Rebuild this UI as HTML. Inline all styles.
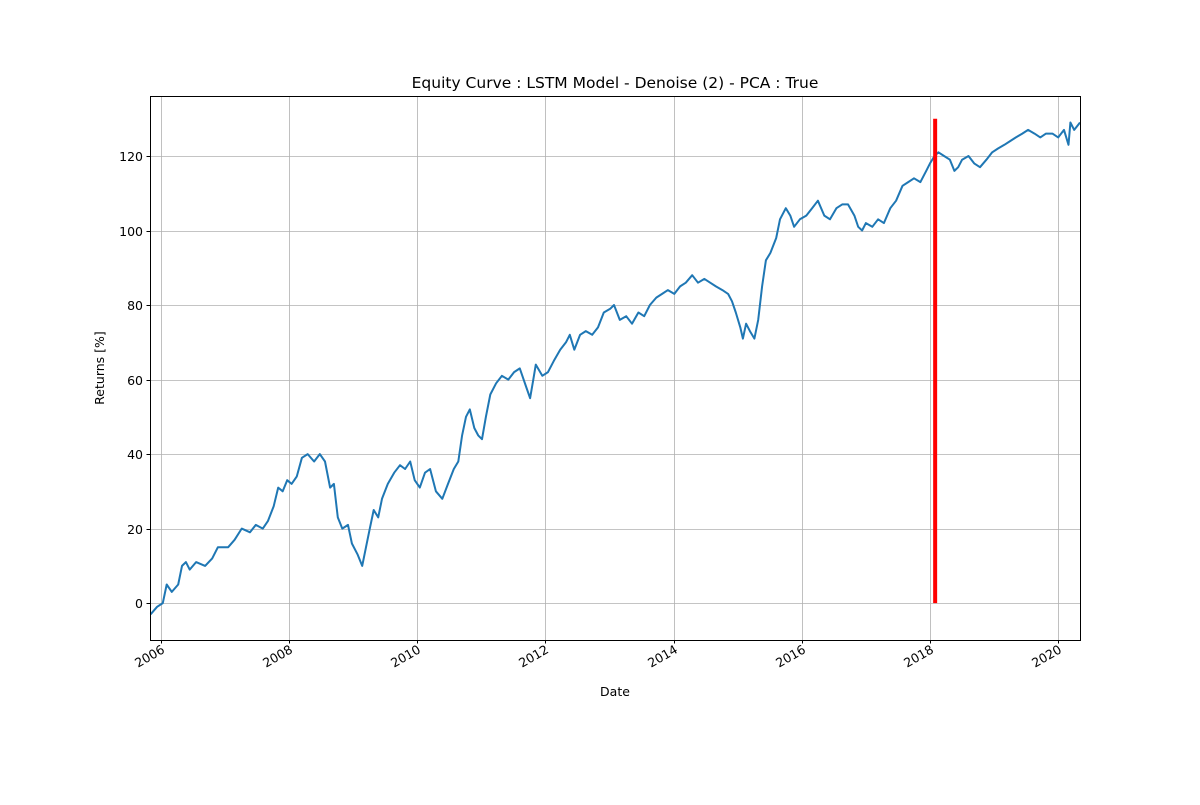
<!DOCTYPE html>
<html><head><meta charset="utf-8"><style>
html,body{margin:0;padding:0;background:#fff;}
svg text{font-family:"DejaVu Sans","Liberation Sans",sans-serif;fill:#000;}
</style></head><body>
<svg id="chart" width="1200" height="800" xmlns="http://www.w3.org/2000/svg">
<rect width="1200" height="800" fill="#fff"/>
<g id="grid"></g>
<g id="series"></g>
<rect x="150.5" y="96.5" width="930" height="544" fill="none" stroke="#000" stroke-width="1"/>
<g id="ticks"></g>
<text x="615" y="88" font-size="15.5" text-anchor="middle">Equity Curve : LSTM Model - Denoise (2) - PCA : True</text>
<text x="615" y="696" font-size="12.5" text-anchor="middle">Date</text>
<text x="104" y="368" font-size="12.5" text-anchor="middle" transform="rotate(-90 104 368)">Returns [%]</text>
</svg>
<script>
const dates=[2005.84,2005.94,2006.03,2006.09,2006.17,2006.27,2006.33,2006.39,2006.45,2006.55,2006.69,2006.80,2006.89,2007.05,2007.15,2007.26,2007.39,2007.48,2007.59,2007.67,2007.76,2007.83,2007.90,2007.97,2008.04,2008.12,2008.20,2008.29,2008.39,2008.48,2008.56,2008.64,2008.70,2008.76,2008.83,2008.92,2008.98,2009.07,2009.14,2009.20,2009.26,2009.32,2009.39,2009.45,2009.54,2009.64,2009.73,2009.81,2009.89,2009.96,2010.04,2010.12,2010.20,2010.29,2010.39,2010.48,2010.57,2010.64,2010.70,2010.76,2010.82,2010.89,2010.95,2011.01,2011.07,2011.14,2011.23,2011.32,2011.42,2011.51,2011.60,2011.70,2011.76,2011.81,2011.85,2011.95,2012.04,2012.13,2012.23,2012.32,2012.38,2012.45,2012.54,2012.63,2012.73,2012.82,2012.91,2013.01,2013.07,2013.16,2013.26,2013.35,2013.45,2013.54,2013.63,2013.73,2013.82,2013.91,2014.01,2014.10,2014.19,2014.29,2014.38,2014.48,2014.57,2014.66,2014.76,2014.85,2014.91,2014.97,2015.04,2015.08,2015.13,2015.19,2015.26,2015.32,2015.38,2015.44,2015.51,2015.60,2015.66,2015.75,2015.82,2015.88,2015.97,2016.07,2016.16,2016.25,2016.35,2016.44,2016.54,2016.63,2016.72,2016.82,2016.88,2016.94,2017.00,2017.10,2017.19,2017.28,2017.38,2017.47,2017.57,2017.66,2017.75,2017.85,2017.94,2018.00,2018.07,2018.13,2018.22,2018.31,2018.38,2018.44,2018.50,2018.60,2018.69,2018.78,2018.88,2018.97,2019.06,2019.16,2019.25,2019.34,2019.44,2019.53,2019.63,2019.72,2019.81,2019.91,2020.00,2020.09,2020.16,2020.19,2020.25,2020.34];
const returns=[-3,-1,0,5,3,5,10,11,9,11,10,12,15,15,17,20,19,21,20,22,26,31,30,33,32,34,39,40,38,40,38,31,32,23,20,21,16,13,10,15,20,25,23,28,32,35,37,36,38,33,31,35,36,30,28,32,36,38,45,50,52,47,45,44,50,56,59,61,60,62,63,58,55,60,64,61,62,65,68,70,72,68,72,73,72,74,78,79,80,76,77,75,78,77,80,82,83,84,83,85,86,88,86,87,86,85,84,83,81,78,74,71,75,73,71,76,85,92,94,98,103,106,104,101,103,104,106,108,104,103,106,107,107,104,101,100,102,101,103,102,106,108,112,113,114,113,116,118,120,121,120,119,116,117,119,120,118,117,119,121,122,123,124,125,126,127,126,125,126,126,125,127,123,129,127,129];
const yTicks=[0,20,40,60,80,100,120];
const xTicks=[2006,2008,2010,2012,2014,2016,2018,2020];
const splitDate=[2018.08];
const splitRange=[0,130];

const X0=150,X1=1080,Y0=96,Y1=640;
const xMin=2005.83,xMax=2020.34,yMin=-9.9,yMax=136.1;
const xs=v=>X0+(v-xMin)/(xMax-xMin)*(X1-X0);
const ys=v=>Y1-(v-yMin)/(yMax-yMin)*(Y1-Y0);
const NS="http://www.w3.org/2000/svg";
function mk(tag,attrs,parent){const e=document.createElementNS(NS,tag);for(const k in attrs)e.setAttribute(k,attrs[k]);parent.appendChild(e);return e;}
const grid=document.getElementById('grid'),ticks=document.getElementById('ticks'),series=document.getElementById('series');
yTicks.forEach(t=>{const y=Math.round(ys(t))+0.5;
 const g=mk('line',{x1:X0,x2:X1,y1:y,y2:y,stroke:'#b0b0b0','stroke-width':0.8},grid);
 
 
 const tk=mk('line',{x1:X0-3.5,x2:X0,y1:y,y2:y,stroke:'#000'},ticks);
 
 
 const tx=mk('text',{x:X0-7,y:y+4.5,'font-size':12.5,'text-anchor':'end'},ticks);tx.textContent=t;
 
 
});
xTicks.forEach(t=>{const x=Math.round(xs(t))+0.5;
 const g=mk('line',{x1:x,x2:x,y1:Y0,y2:Y1,stroke:'#b0b0b0','stroke-width':0.8},grid);
 
 
 const tk=mk('line',{x1:x,x2:x,y1:Y1,y2:Y1+3.5,stroke:'#000'},ticks);
 
 
 const tx=mk('text',{x:x+4,y:Y1+12,'font-size':12.5,'text-anchor':'end',transform:`rotate(-30 ${x+4} ${Y1+12})`},ticks);tx.textContent=t;
 
 
});
const pts=dates.map((d,i)=>xs(d).toFixed(1)+','+ys(returns[i]).toFixed(1)).join(' ');
const line=mk('polyline',{points:pts,fill:'none',stroke:'#1f77b4','stroke-width':2,'stroke-linejoin':'round'},series);


const red=mk('line',{x1:xs(splitDate[0]),x2:xs(splitDate[0]),y1:ys(splitRange[0]),y2:ys(splitRange[1]),stroke:'#ff0000','stroke-width':4},series);


</script>
</body></html>
